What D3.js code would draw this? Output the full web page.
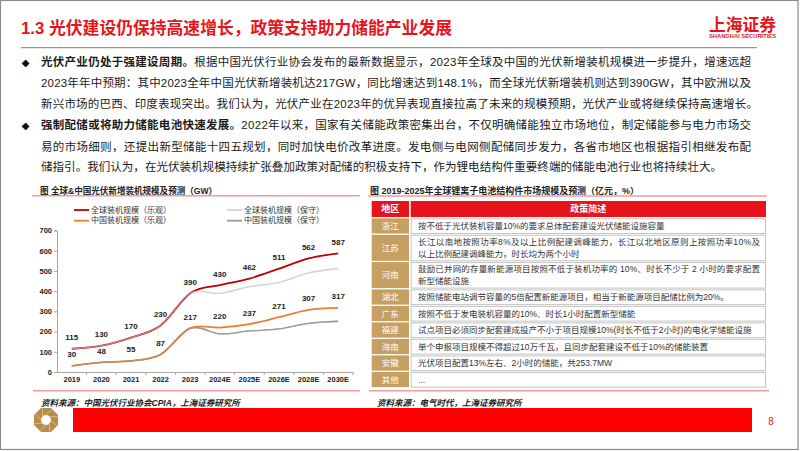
<!DOCTYPE html>
<html><head><meta charset="utf-8">
<script src="https://cdn.jsdelivr.net/npm/d3@7"></script>
<style>
html,body{margin:0;padding:0;background:#fff;}
svg{display:block;}
text{font-family:"Liberation Sans","Noto Sans CJK SC",sans-serif;}
</style></head><body>
<svg id="c" width="802" height="451"></svg>
<script>
// ---------- data ----------
const slideTitle = "1.3 光伏建设仍保持高速增长，政策支持助力储能产业发展";
const para1Lines = [
  ["光伏产业仍处于强建设周期。", "根据中国光伏行业协会发布的最新数据显示，2023年全球及中国的光伏新增装机规模进一步提升，增速远超"],
  ["", "2023年年中预期：其中2023全年中国光伏新增装机达217GW，同比增速达到148.1%，而全球光伏新增装机则达到390GW，其中欧洲以及"],
  ["", "新兴市场的巴西、印度表现突出。我们认为，光伏产业在2023年的优异表现直接拉高了未来的规模预期，光伏产业或将继续保持高速增长。"]
];
const para2Lines = [
  ["强制配储或将助力储能电池快速发展。", "2022年以来，国家有关储能政策密集出台，不仅明确储能独立市场地位，制定储能参与电力市场交"],
  ["", "易的市场细则，还提出新型储能十四五规划，同时加快电价改革进度。发电侧与电网侧配储同步发力，各省市地区也根据指引相继发布配"],
  ["", "储指引。我们认为，在光伏装机规模持续扩张叠加政策对配储的积极支持下，作为锂电结构件重要终端的储能电池行业也将持续壮大。"]
];
const chartTitle = "图  全球&中国光伏新增装机规模及预测（GW）";
const tableTitle = "图 2019-2025年全球锂离子电池结构件市场规模及预测（亿元，%）";
const years = ["2019","2020","2021","2022","2023","2024E","2025E","2026E","2028E","2030E"];
const globalOpt  = [115,130,170,230,390,430,462,511,562,587];
const globalCons = [115,130,170,230,390,389,422,443,490,512];
const chinaOpt   = [30,48,55,87,217,220,237,271,307,317];
const chinaCons  = [30,48,55,87,217,189,203,213,241,251];
const yTicks = [0,100,200,300,400,500,600,700];
const legendNames = ["全球装机规模（乐观）","全球装机规模（保守）","中国装机规模（乐观）","中国装机规模（保守）"];
const tableHeader = ["地区","政策简述"];
const regions = ["浙江","江苏","河南","湖北","广东","福建","海南","安徽","其他"];
const policies = [
  ["按不低于光伏装机容量10%的要求总体配套建设光伏储能设施容量"],
  ["长江以南地按照功率8%及以上比例配建调峰能力，长江以北地区原则上按照功率10%及","以上比例配建调峰能力，时长均为两个小时"],
  ["鼓励已并网的存量新能源项目按照不低于装机功率的 10%、时长不少于 2 小时的要求配置","新型储能设施"],
  ["按照储能电站调节容量的5倍配置新能源项目，相当于新能源项目配储比例为20%。"],
  ["按照不低于发电装机容量的10%、时长1小时配置新型储能"],
  ["试点项目必须同步配套建成投产不小于项目规模10%(时长不低于2小时)的电化学储能设施"],
  ["单个申报项目规模不得超过10万千瓦，且同步配套建设不低于10%的储能装置"],
  ["光伏项目配置13%左右、2小时的储能，共253.7MW"],
  ["..."]
];
const sourceLeft = "资料来源：中国光伏行业协会CPIA，上海证券研究所";
const sourceRight = "资料来源：电气时代，上海证券研究所";
const pageNo = "8";

// ---------- drawing ----------
const svg = d3.select("#c");
const RED = "#e8141c";
const GOLD = "#c6a062";
const PINK = "#f29c9c";

// frame
svg.append("rect").attr("x",0.5).attr("y",0.5).attr("width",797.5).attr("height",449)
  .attr("fill","none").attr("stroke","#8a8a8a").attr("stroke-width",1.2);

// title
svg.append("text").attr("x",21).attr("y",28).attr("dominant-baseline","central")
  .attr("font-size",17).attr("font-weight","bold").attr("fill",RED)
  .attr("textLength",431).attr("lengthAdjust","spacingAndGlyphs").text(slideTitle);
svg.append("line").attr("x1",21).attr("x2",757).attr("y1",47.7).attr("y2",47.7)
  .attr("stroke","#7f7f7f").attr("stroke-width",1);

// logo
svg.append("text").attr("x",709).attr("y",25).attr("dominant-baseline","central")
  .attr("font-size",17).attr("font-weight","bold").attr("fill",RED)
  .attr("textLength",67).attr("lengthAdjust","spacingAndGlyphs").text("上海证券");
svg.append("text").attr("x",709).attr("y",36.3).attr("dominant-baseline","central")
  .attr("font-size",5.2).attr("font-weight","bold").attr("fill",RED)
  .attr("textLength",67).attr("lengthAdjust","spacingAndGlyphs").text("SHANGHAI SECURITIES");

// paragraphs
function drawPara(lines, ys, lens){
  lines.forEach((ln,i)=>{
    const t = svg.append("text").attr("x",41).attr("y",ys[i]).attr("dominant-baseline","central")
      .attr("font-size",11.5).attr("fill","#1a1a1a")
      .attr("textLength",lens[i]).attr("lengthAdjust","spacing");
    if (ln[0]) t.append("tspan").attr("font-weight","bold").text(ln[0]);
    t.append("tspan").text(ln[1]);
  });
  svg.append("text").attr("x",25.5).attr("y",ys[0]).attr("dominant-baseline","central")
    .attr("text-anchor","middle").attr("font-size",10).attr("fill","#111")
    .style("font-family","DejaVu Sans").text("◆");
}
drawPara(para1Lines,[62.3,83.3,104],[710,710,717]);
drawPara(para2Lines,[125.3,146.5,167],[710,710,681]);

// ---------- left chart ----------
svg.append("text").attr("x",40).attr("y",190.7).attr("dominant-baseline","central")
  .attr("font-size",8.6).attr("font-weight","bold").attr("fill","#222")
  .attr("textLength",177).attr("lengthAdjust","spacingAndGlyphs").text(chartTitle);
svg.append("line").attr("x1",32).attr("x2",360).attr("y1",195.8).attr("y2",195.8)
  .attr("stroke",PINK).attr("stroke-width",1.4);

const x = d3.scaleBand().domain(years).range([57,353]);
const y = d3.scaleLinear().domain([0,700]).range([372,230.5]);
const cx = d => x(d) + x.bandwidth()/2;

// axes
const yAxis = svg.append("g").attr("transform","translate(57,0)")
  .call(d3.axisLeft(y).tickValues(yTicks).tickSize(3).tickPadding(2));
yAxis.selectAll("path,line").attr("stroke","#a6a6a6");
yAxis.selectAll("text").attr("font-size",7.5).attr("font-weight","bold").attr("fill","#222")
  .style("font-family","Liberation Sans");
const xAxis = svg.append("g").attr("transform","translate(0,372)")
  .call(d3.axisBottom(x).tickSize(0).tickPadding(5));
xAxis.select(".domain").attr("stroke","#a6a6a6");
xAxis.selectAll("text").attr("font-size",7.5).attr("font-weight","bold").attr("fill","#222")
  .style("font-family","Liberation Sans");
svg.append("g").selectAll("line").data(years.slice(1).concat(["__end"])).join("line")
  .attr("x1",d=> d==="__end" ? x.range()[1] : x(d)).attr("x2",d=> d==="__end" ? x.range()[1] : x(d))
  .attr("y1",372).attr("y2",375).attr("stroke","#a6a6a6");

const lineGen = d3.line().x((d,i)=>cx(years[i])).y(d=>y(d)).curve(d3.curveCardinal.tension(0));
const series = [
  {name:legendNames[1], values:globalCons, color:"#d4d4d4", w:1.3},
  {name:legendNames[3], values:chinaCons, color:"#9a9a9a", w:1.3},
  {name:legendNames[0], values:globalOpt, color:"#c00000", w:1.8},
  {name:legendNames[2], values:chinaOpt, color:"#f07d2e", w:1.8}
];
const lg = svg.append("g");
series.forEach(s=>{
  lg.append("path").attr("d",lineGen(s.values)).attr("fill","none")
    .attr("stroke",s.color).attr("stroke-width",s.w);
});
// conservative overlays (blend on overlapping history)
series.slice(0,2).forEach(s=>{
  lg.append("path").attr("d",lineGen(s.values)).attr("fill","none")
    .attr("stroke",s.color).attr("stroke-width",s.w).attr("opacity",0.6);
});

// data labels
[globalOpt, chinaOpt].forEach(vals=>{
  svg.append("g").selectAll("text").data(vals).join("text")
    .attr("x",(d,i)=>cx(years[i])).attr("y",d=>y(d)-11)
    .attr("text-anchor","middle").attr("dominant-baseline","central")
    .attr("font-size",8).attr("font-weight","bold").attr("fill","#222")
    .text(d=>d);
});

// legend
const legendPos = [[74,210],[227,210],[74,220.7],[227,220.7]];
const legendColors = ["#c00000","#d4d4d4","#f07d2e","#9a9a9a"];
legendNames.forEach((n,i)=>{
  const [lx,ly] = legendPos[i];
  svg.append("line").attr("x1",lx).attr("x2",lx+15).attr("y1",ly).attr("y2",ly)
    .attr("stroke",legendColors[i]).attr("stroke-width",1.8);
  svg.append("text").attr("x",lx+17).attr("y",ly).attr("dominant-baseline","central")
    .attr("font-size",8).attr("fill","#333").text(n);
});

// ---------- right table ----------
svg.append("text").attr("x",370).attr("y",190.7).attr("dominant-baseline","central")
  .attr("font-size",8.6).attr("font-weight","bold").attr("fill","#222")
  .attr("textLength",269).attr("lengthAdjust","spacingAndGlyphs").text(tableTitle);
svg.append("line").attr("x1",368).attr("x2",767).attr("y1",196).attr("y2",196)
  .attr("stroke",PINK).attr("stroke-width",1.4);

const colL = [371.7, 409], colR = [410.7, 766];
svg.append("rect").attr("x",colL[0]).attr("y",201).attr("width",colL[1]-colL[0]).attr("height",16).attr("fill",RED);
svg.append("rect").attr("x",colR[0]).attr("y",201).attr("width",colR[1]-colR[0]).attr("height",16).attr("fill",RED);
svg.append("text").attr("x",(colL[0]+colL[1])/2).attr("y",209).attr("text-anchor","middle")
  .attr("dominant-baseline","central").attr("font-size",9).attr("font-weight","bold").attr("fill","#fff").text(tableHeader[0]);
svg.append("text").attr("x",(colR[0]+colR[1])/2).attr("y",209).attr("text-anchor","middle")
  .attr("dominant-baseline","central").attr("font-size",9).attr("font-weight","bold").attr("fill","#fff").text(tableHeader[1]);

let ry = 218.3;
regions.forEach((r,i)=>{
  const lines = policies[i];
  const h = lines.length === 1 ? 15.2 : 26;
  svg.append("rect").attr("x",colL[0]).attr("y",ry).attr("width",colL[1]-colL[0]).attr("height",h).attr("fill",GOLD);
  svg.append("rect").attr("x",colR[0]+0.5).attr("y",ry+0.5).attr("width",colR[1]-colR[0]-1).attr("height",h-0.5)
    .attr("fill","#fff").attr("stroke","#c4c4c4").attr("stroke-width",1);
  svg.append("text").attr("x",(colL[0]+colL[1])/2).attr("y",ry+h/2).attr("text-anchor","middle")
    .attr("dominant-baseline","central").attr("font-size",8.5).attr("fill","#fff").text(r);
  if (lines.length === 1) {
    svg.append("text").attr("x",418).attr("y",ry+h/2).attr("dominant-baseline","central")
      .attr("font-size",8.5).attr("fill","#333").text(lines[0]);
  } else {
    svg.append("text").attr("x",418).attr("y",ry+7.3).attr("dominant-baseline","central")
      .attr("font-size",8.5).attr("fill","#333").attr("textLength",342).attr("lengthAdjust","spacing").text(lines[0]);
    svg.append("text").attr("x",418).attr("y",ry+18.7).attr("dominant-baseline","central")
      .attr("font-size",8.5).attr("fill","#333").text(lines[1]);
  }
  ry += h + 1.3;
});

// bottom lines & sources
svg.append("line").attr("x1",33).attr("x2",360).attr("y1",390.7).attr("y2",390.7).attr("stroke",PINK).attr("stroke-width",1.4);
svg.append("line").attr("x1",369).attr("x2",769).attr("y1",390.7).attr("y2",390.7).attr("stroke",PINK).attr("stroke-width",1.4);
svg.append("text").attr("x",41).attr("y",403).attr("dominant-baseline","central")
  .attr("font-size",8.5).attr("font-weight","bold").attr("font-style","italic").attr("fill","#222").text(sourceLeft);
svg.append("text").attr("x",377).attr("y",403).attr("dominant-baseline","central")
  .attr("font-size",8.5).attr("font-weight","bold").attr("font-style","italic").attr("fill","#222").text(sourceRight);

// footer
const oct = (cx0,cy0,r)=> d3.range(8).map(k=>{const a=Math.PI/8+k*Math.PI/4;return [cx0+r*Math.cos(a),cy0+r*Math.sin(a)];});
svg.append("polygon").attr("points",oct(46,420,13).map(p=>p.join(",")).join(" ")).attr("fill","#b88d4a");
d3.range(8).forEach(k=>{
  const a=k*Math.PI/4;
  svg.append("line").attr("x1",46+5*Math.cos(a)).attr("y1",420+5*Math.sin(a))
    .attr("x2",46+12*Math.cos(a+0.5)).attr("y2",420+12*Math.sin(a+0.5))
    .attr("stroke","#e2c48c").attr("stroke-width",0.8);
});
svg.append("polygon").attr("points",oct(46,420,5.2).map(p=>p.join(",")).join(" ")).attr("fill","#fff");
svg.append("rect").attr("x",73).attr("y",408).attr("width",679).attr("height",24).attr("fill","#ff0000");
svg.append("text").attr("x",771).attr("y",421).attr("text-anchor","middle").attr("dominant-baseline","central")
  .attr("font-size",10).attr("fill",RED).text(pageNo);
</script>
</body></html>
